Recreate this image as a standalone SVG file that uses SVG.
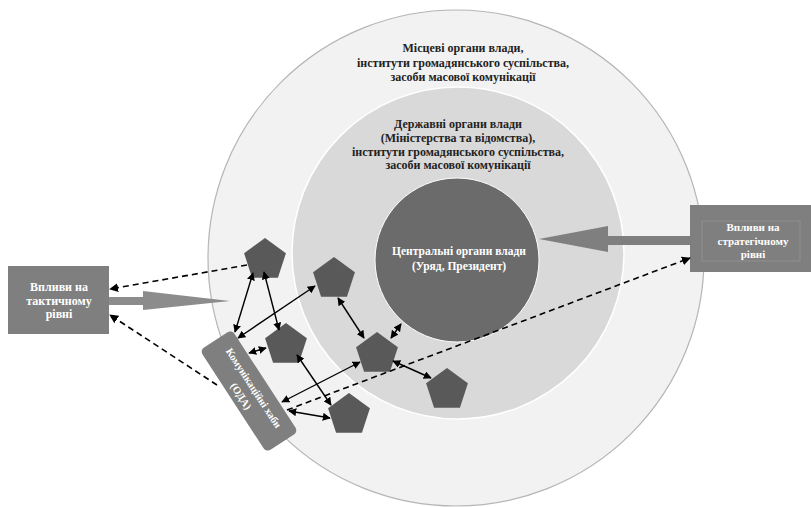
<svg xmlns="http://www.w3.org/2000/svg" width="811" height="507" viewBox="0 0 811 507">
<style>
.t{font-family:"Liberation Serif","Times New Roman",serif;font-weight:bold;text-anchor:middle}
.dk{fill:#222;font-size:12px}
.wt{fill:#fff;font-size:12px}
.pent{fill:#595959}
.sol{stroke:#000;stroke-width:1.4;fill:none;marker-start:url(#ah);marker-end:url(#ah)}
.dash{stroke:#000;stroke-width:1.6;fill:none;stroke-dasharray:6 4;marker-end:url(#ah2)}
.box{fill:#7f7f7f}
</style>
<defs>
<marker id="ah" viewBox="0 0 10 10" refX="9" refY="5" markerWidth="8" markerHeight="8" markerUnits="userSpaceOnUse" orient="auto-start-reverse">
<path d="M0,0 L10,5 L0,10 z" fill="#000"/>
</marker>
<marker id="ah2" viewBox="0 0 10 10" refX="9" refY="5" markerWidth="9" markerHeight="9" markerUnits="userSpaceOnUse" orient="auto">
<path d="M0,0 L10,5 L0,10 z" fill="#000"/>
</marker>
<path id="pg" d="M0,-22 L20.92,-6.8 L12.93,17.8 L-12.93,17.8 L-20.92,-6.8 Z"/>
</defs>

<g id="outer-circle">
<circle cx="456" cy="258" r="248" fill="#f2f2f2" stroke="#b5b5b5" stroke-width="1.2"/>
<text class="t dk" x="463" y="52">Місцеві органи влади,</text>
<text class="t dk" x="463" y="67">інститути громадянського суспільства,</text>
<text class="t dk" x="463" y="81">засоби масової комунікації</text>
</g>

<g id="middle-circle">
<circle cx="458" cy="253" r="166" fill="#d9d9d9" stroke="#fff" stroke-width="1.5"/>
<text class="t dk" x="458" y="128">Державні органи влади</text>
<text class="t dk" x="458" y="142">(Міністерства та відомства),</text>
<text class="t dk" x="458" y="156">інститути громадянського суспільства,</text>
<text class="t dk" x="458" y="169">засоби масової комунікації</text>
</g>

<g id="central-circle">
<circle cx="457" cy="260" r="82" fill="#6b6b6b" stroke="#fff" stroke-width="1"/>
<text class="t wt" x="459" y="255" style="font-size:11.5px">Центральні органи влади</text>
<text class="t wt" x="459" y="270" style="font-size:11.5px">(Уряд, Президент)</text>
</g>

<g id="tactical-box">
<rect class="box" x="8" y="266" width="101" height="68"/>
<text class="t wt" x="59" y="291">Впливи на</text>
<text class="t wt" x="59" y="305">тактичному</text>
<text class="t wt" x="59" y="318">рівні</text>
</g>

<g id="strategic-box">
<rect class="box" x="690" y="205" width="121" height="67"/>
<rect x="702" y="221" width="98" height="40" fill="none" stroke="#999" stroke-width="0.6"/>
<text class="t wt" x="753" y="231" style="font-size:11px">Впливи на</text>
<text class="t wt" x="753" y="245" style="font-size:11px">стратегічному</text>
<text class="t wt" x="753" y="258" style="font-size:11px">рівні</text>
</g>

<g id="big-arrows">
<polygon points="109,297 143,297 143,291 230,301 143,310 143,305 109,305" fill="#8c8c8c"/>
<polygon points="690,236 608,236 608,226 539,239 608,252 608,245 690,245" fill="#7f7f7f"/>
</g>

<g id="hub">
<g transform="translate(249,391) rotate(57)">
<rect x="-61" y="-19" width="122" height="38" rx="5" fill="#7f7f7f"/>
<text class="t wt" x="0" y="-2" style="font-size:10.5px">Комунікаційні хаби</text>
<text class="t wt" x="0" y="13" style="font-size:10.5px">(ОДА)</text>
</g>
</g>

<g id="p1"><use href="#pg" class="pent" transform="translate(265,260)"/></g>
<g id="p2"><use href="#pg" class="pent" transform="translate(334,279)"/></g>
<g id="p3"><use href="#pg" class="pent" transform="translate(286,345)"/></g>
<g id="p4"><use href="#pg" class="pent" transform="translate(377,354)"/></g>
<g id="p5"><use href="#pg" class="pent" transform="translate(447,390)"/></g>
<g id="p6"><use href="#pg" class="pent" transform="translate(349,415)"/></g>

<g id="connectors">
<line class="sol" x1="253" y1="273" x2="235" y2="332"/>
<line class="sol" x1="264" y1="272" x2="279" y2="330"/>
<line class="sol" x1="315" y1="286" x2="238" y2="338"/>
<line class="sol" x1="338" y1="298" x2="364" y2="338"/>
<line class="sol" x1="391" y1="338" x2="401" y2="324"/>
<line class="sol" x1="249" y1="353" x2="266" y2="348"/>
<line class="sol" x1="360" y1="362" x2="282" y2="402"/>
<line class="sol" x1="297" y1="355" x2="331" y2="405"/>
<line class="sol" x1="393" y1="361" x2="431" y2="378"/>
<line class="sol" x1="289" y1="411" x2="330" y2="418"/>
<line class="dash" x1="247" y1="265" x2="110" y2="289"/>
<line class="dash" x1="217" y1="385" x2="110" y2="315"/>
<line class="dash" x1="287" y1="410" x2="690" y2="258"/>
</g>
</svg>
